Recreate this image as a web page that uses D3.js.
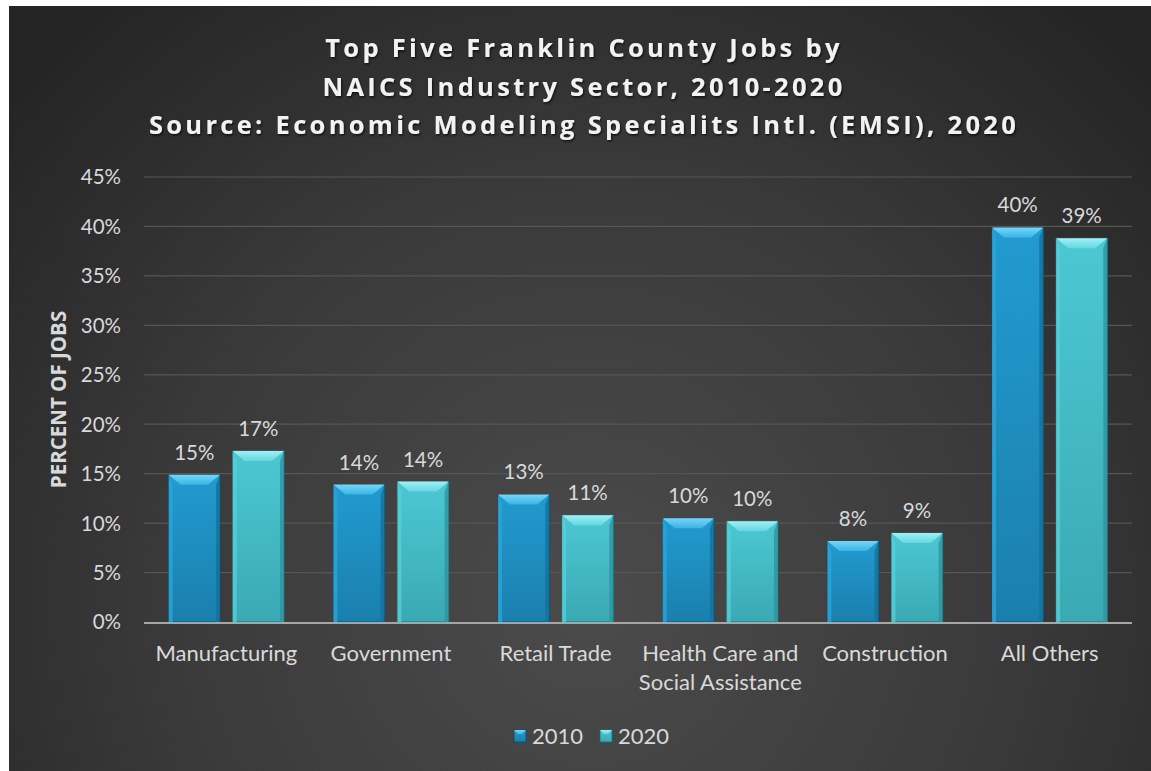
<!DOCTYPE html>
<html>
<head>
<meta charset="utf-8">
<script src="https://cdn.jsdelivr.net/npm/d3@7/dist/d3.min.js"></script>
<style>
  html, body { margin: 0; padding: 0; background: #ffffff; }
  svg { display: block; }
</style>
</head>
<body>
<svg id="chart" width="1151" height="771"></svg>
<script>
// Share of Franklin County jobs by NAICS sector, 2010 vs 2020
const categories = [
  ["Manufacturing"],
  ["Government"],
  ["Retail Trade"],
  ["Health Care and", "Social Assistance"],
  ["Construction"],
  ["All Others"]
];
const series = ["2010", "2020"];
const values2010 = [14.9, 13.9, 12.9, 10.5, 8.2, 39.9];
const values2020 = [17.3, 14.2, 10.8, 10.2, 9.0, 38.8];
const labels2010 = ["15%", "14%", "13%", "10%", "8%", "40%"];
const labels2020 = ["17%", "14%", "11%", "10%", "9%", "39%"];
const yTicks = [0, 5, 10, 15, 20, 25, 30, 35, 40, 45];
const titleLines = [
  "Top Five Franklin County Jobs by",
  "NAICS Industry Sector, 2010-2020",
  "Source: Economic Modeling Specialits Intl. (EMSI), 2020"
];

const svg = d3.select("#chart");
const W = 1151, H = 771;
const frame = { x: 9, y: 6, w: W - 9, h: H - 6 };
const plot = { left: 144, right: 1132, top: 177, bottom: 622 };
const bodyFont = "Lato, 'Open Sans', sans-serif";
const boldFont = "'Open Sans', Lato, sans-serif";
const textColor = "#d9d9d9";

const defs = svg.append("defs");

// dark radial background
const bg = defs.append("radialGradient")
  .attr("id", "bgGrad")
  .attr("gradientUnits", "userSpaceOnUse")
  .attr("cx", 590).attr("cy", 600).attr("r", 760);
bg.append("stop").attr("offset", "0%").attr("stop-color", "#4b4b4b");
bg.append("stop").attr("offset", "55%").attr("stop-color", "#3a3a3a");
bg.append("stop").attr("offset", "100%").attr("stop-color", "#252525");

svg.append("rect")
  .attr("x", frame.x).attr("y", frame.y)
  .attr("width", frame.w).attr("height", frame.h)
  .attr("fill", "url(#bgGrad)");

// title shadow
const sh = defs.append("filter").attr("id", "txtShadow")
  .attr("x", "-5%").attr("y", "-20%").attr("width", "110%").attr("height", "140%");
sh.append("feDropShadow").attr("dx", 1).attr("dy", 1.5).attr("stdDeviation", 1.2)
  .attr("flood-color", "#000").attr("flood-opacity", 0.7);

// bar colour sets: face top/bottom, bevel top, left and right edges
const palette = {
  "2010": { faceTop: "#229bd0", faceBot: "#1a7fad", bevelTop: "#74d7f9", bevelTop2: "#3ab4e4",
            left: "#2aa5da", right: "#15709a", outline: "#0e4e6c" },
  "2020": { faceTop: "#4cc8d3", faceBot: "#3aa9b4", bevelTop: "#9ef1f7", bevelTop2: "#63d6e0",
            left: "#55cfd9", right: "#2f939d", outline: "#1f6c74" }
};
series.forEach(s => {
  const p = palette[s];
  const g = defs.append("linearGradient").attr("id", "face" + s)
    .attr("x1", 0).attr("y1", 0).attr("x2", 0).attr("y2", 1);
  g.append("stop").attr("offset", "0%").attr("stop-color", p.faceTop);
  g.append("stop").attr("offset", "100%").attr("stop-color", p.faceBot);
  const t = defs.append("linearGradient").attr("id", "bevel" + s)
    .attr("x1", 0).attr("y1", 0).attr("x2", 0).attr("y2", 1);
  t.append("stop").attr("offset", "0%").attr("stop-color", p.bevelTop);
  t.append("stop").attr("offset", "100%").attr("stop-color", p.bevelTop2);
});

const x0 = d3.scaleBand()
  .domain(d3.range(categories.length))
  .range([plot.left, plot.right])
  .paddingInner(0.3)
  .paddingOuter(0.15);
const x1 = d3.scaleBand()
  .domain(series)
  .range([0, x0.bandwidth()])
  .paddingInner(0.2);
const y = d3.scaleLinear().domain([0, 45]).range([plot.bottom, plot.top]);

// gridlines
svg.append("g")
  .selectAll("line")
  .data(yTicks.filter(t => t > 0))
  .join("line")
  .attr("x1", plot.left).attr("x2", plot.right)
  .attr("y1", d => y(d)).attr("y2", d => y(d))
  .attr("stroke", "#565656").attr("stroke-width", 1.2);

// y axis tick labels
const yAxis = d3.axisLeft(y).tickValues(yTicks).tickFormat(d => d + "%").tickSize(0).tickPadding(0);
const yg = svg.append("g").attr("transform", `translate(${plot.left - 23},0)`).call(yAxis);
yg.select(".domain").remove();
yg.selectAll("text")
  .attr("fill", textColor)
  .attr("font-family", bodyFont)
  .attr("font-size", 20.5)
  .attr("dy", "0.34em");

// y axis title
svg.append("text")
  .attr("transform", `translate(66,${(plot.top + plot.bottom) / 2}) rotate(-90)`)
  .attr("text-anchor", "middle")
  .attr("fill", textColor)
  .attr("font-family", boldFont)
  .attr("font-weight", "bold")
  .attr("font-size", 20.5)
  .text("PERCENT OF JOBS");

// bevelled bars
const bevel = 10;
const data = [];
categories.forEach((c, i) => {
  data.push({ i, s: "2010", v: values2010[i], label: labels2010[i] });
  data.push({ i, s: "2020", v: values2020[i], label: labels2020[i] });
});

const bars = svg.append("g").selectAll("g.bar").data(data).join("g").attr("class", "bar");
bars.each(function (d) {
  const g = d3.select(this);
  const p = palette[d.s];
  const bx = x0(d.i) + x1(d.s);
  const bw = x1.bandwidth();
  const by = y(d.v);
  const bb = y(0);
  const b = Math.min(bevel, (bb - by) / 2);
  g.append("rect")
    .attr("x", bx).attr("y", by).attr("width", bw).attr("height", bb - by)
    .attr("fill", `url(#face${d.s})`)
    .attr("stroke", p.outline).attr("stroke-width", 1);
  // left edge
  g.append("polygon")
    .attr("points", [[bx, by], [bx + 4, by + b], [bx + 4, bb], [bx, bb]].join(" "))
    .attr("fill", p.left).attr("opacity", 0.8);
  // right edge
  g.append("polygon")
    .attr("points", [[bx + bw, by], [bx + bw - 4, by + b], [bx + bw - 4, bb], [bx + bw, bb]].join(" "))
    .attr("fill", p.right).attr("opacity", 0.8);
  // top bevel
  g.append("polygon")
    .attr("points", [[bx, by], [bx + bw, by], [bx + bw - b - 2, by + b], [bx + b + 2, by + b]].join(" "))
    .attr("fill", `url(#bevel${d.s})`);
  // value label
  g.append("text")
    .attr("x", bx + bw / 2).attr("y", by - 15)
    .attr("text-anchor", "middle")
    .attr("fill", textColor)
    .attr("font-family", bodyFont)
    .attr("font-size", 20.5)
    .text(d.label);
});

// baseline
svg.append("line")
  .attr("x1", plot.left).attr("x2", plot.right)
  .attr("y1", y(0) + 1).attr("y2", y(0) + 1)
  .attr("stroke", "#a6a6a6").attr("stroke-width", 2.2);

// category labels
const catG = svg.append("g");
categories.forEach((lines, i) => {
  const cx = x0(i) + x0.bandwidth() / 2;
  const t = catG.append("text")
    .attr("x", cx)
    .attr("y", 661)
    .attr("text-anchor", "middle")
    .attr("fill", textColor)
    .attr("font-family", bodyFont)
    .attr("font-size", 22);
  lines.forEach((ln, k) => {
    t.append("tspan").attr("x", cx).attr("dy", k === 0 ? 0 : 29).text(ln);
  });
});

// title
const title = svg.append("g").attr("filter", "url(#txtShadow)");
titleLines.forEach((ln, k) => {
  title.append("text")
    .attr("x", 584).attr("y", 57 + k * 38.5)
    .attr("text-anchor", "middle")
    .attr("fill", "#f2f2f2")
    .attr("font-family", boldFont)
    .attr("font-weight", "bold")
    .attr("font-size", 25.5)
    .attr("letter-spacing", 3.3)
    .text(ln);
});

// legend
const legend = svg.append("g");
const legendItems = [{ s: "2010", x: 514 }, { s: "2020", x: 600 }];
legendItems.forEach(it => {
  const p = palette[it.s];
  const lx = it.x, ly = 730, ls = 12;
  legend.append("rect").attr("x", lx).attr("y", ly).attr("width", ls).attr("height", ls)
    .attr("fill", `url(#face${it.s})`).attr("stroke", p.outline).attr("stroke-width", 0.8);
  legend.append("polygon")
    .attr("points", [[lx, ly], [lx + ls, ly], [lx + ls - 4, ly + 4], [lx + 4, ly + 4]].join(" "))
    .attr("fill", `url(#bevel${it.s})`);
  legend.append("text")
    .attr("x", lx + 18).attr("y", ly + 14)
    .attr("fill", textColor)
    .attr("font-family", bodyFont)
    .attr("font-size", 22)
    .text(it.s);
});
</script>
</body>
</html>
